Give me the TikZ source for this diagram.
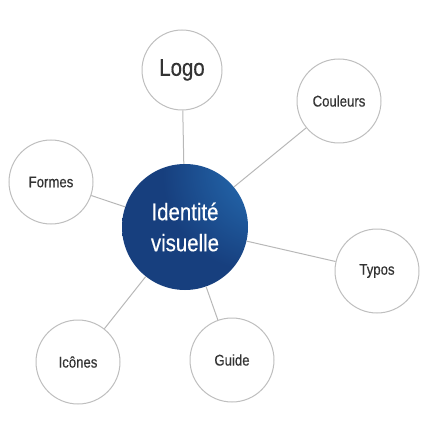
\documentclass[tikz,border=0pt]{standalone}
\usepackage{fontspec}
\setmainfont{Liberation Sans}[FakeStretch=0.85,FakeBold=0.4]
\usepackage{tikz}
\usetikzlibrary{positioning}
\definecolor{rimgray}{HTML}{BFBFBF}
\definecolor{linkgray}{HTML}{B8B8B8}
\definecolor{labelgray}{HTML}{333333}
\definecolor{hlblue}{HTML}{42B0E4}
\definecolor{midblue}{HTML}{2262A6}
\definecolor{navyblue}{HTML}{173F7E}
\pgfdeclareradialshading{idball}{\pgfpoint{40bp}{28bp}}{%
  color(0bp)=(hlblue); color(16bp)=(midblue); color(38bp)=(navyblue); color(140bp)=(navyblue)}

\begin{document}
\begin{tikzpicture}[x=1pt,y=-1pt,
        topic/.style={circle, draw=rimgray, line width=1pt, fill=white,
            minimum size=84pt, inner sep=0pt, text=labelgray, font=\fontsize{15.5}{17}\selectfont},
        hub/.style={circle, shading=idball, minimum size=126pt, inner sep=0pt,
            text=white, align=center, font=\fontsize{24}{31}\selectfont},
        link/.style={draw=linkgray, line width=1pt}]
        \useasboundingbox (0,0) rectangle (430,430);
        \node[hub] (id) at (185,227) {Identité\\visuelle};
        \node[topic, minimum size=80pt, font=\fontsize{24}{26}\selectfont] (logo) at (182,70) {Logo};
        \node[topic] (couleurs) at (339,101) {Couleurs};
        \node[topic] (formes) at (51,182) {Formes};
        \node[topic] (typos) at (377,271) {Typos};
        \node[topic] (icones) at (78,362) {Icônes};
        \node[topic] (guide) at (232,360) {Guide};

        \foreach \t in {logo, couleurs, formes, typos, icones, guide}
            \path[link] (id) -- (\t);
    \end{tikzpicture}
\end{document}
